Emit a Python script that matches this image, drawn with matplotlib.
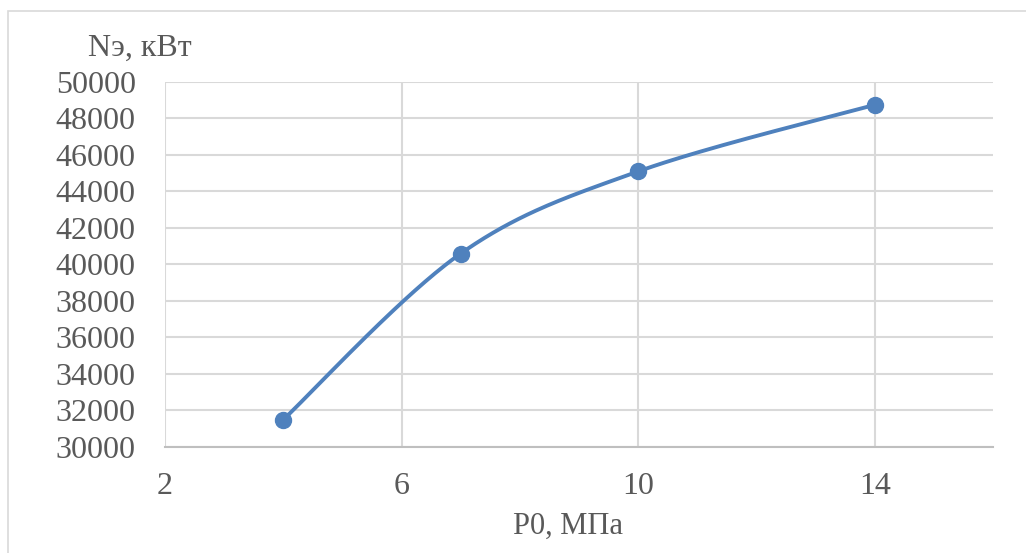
import numpy as np
import matplotlib.pyplot as plt
from matplotlib.patches import Rectangle

# Pressure before the turbine and effective power
p0 = [4, 7, 10, 14]
power = [31500, 40600, 45100, 48750]

x_ticks = [2, 6, 10, 14]
y_ticks = list(range(30000, 50001, 2000))

line_color = '#4F81BD'
grid_color = '#D9D9D9'
text_color = '#595959'

plt.rcParams['font.family'] = ['Liberation Serif', 'DejaVu Serif']

fig = plt.figure(figsize=(10.26, 5.53), dpi=100)
ax = fig.add_axes([165 / 1026, 106 / 553, 828 / 1026, 365 / 553])

# chart-area frame (only top and left edges fall inside the image)
fig.patches.append(Rectangle((8 / 1026, -0.1), 1.2, 1 - 11 / 553 + 0.1,
                             transform=fig.transFigure, fill=False,
                             edgecolor=grid_color, linewidth=1.2))

ax.set_xlim(2, 16)
ax.set_ylim(30000, 50000)
ax.set_xticks(x_ticks)
ax.set_yticks(y_ticks)
ax.grid(True, color=grid_color, linewidth=1.5)
ax.set_axisbelow(True)
for side in ['top', 'right', 'left']:
    ax.spines[side].set_visible(False)
ax.spines['bottom'].set_color('#BFBFBF')
ax.spines['bottom'].set_linewidth(1.5)
ax.tick_params(length=0, labelsize=23, labelcolor=text_color)
ax.tick_params(axis='x', pad=18)
ax.tick_params(axis='y', pad=21)

# smoothed curve: cubic Bezier segments built in display space
pts = ax.transData.transform(np.column_stack([p0, power]))
ext = np.vstack([pts[0], pts, pts[-1]])
curve = []
t = np.linspace(0, 1, 60)[:, None]
for i in range(len(pts) - 1):
    a, b = ext[i + 1], ext[i + 2]
    c1 = a + (ext[i + 2] - ext[i]) / 6
    c2 = b - (ext[i + 3] - ext[i + 1]) / 6
    seg = ((1 - t) ** 3) * a + 3 * ((1 - t) ** 2) * t * c1 + 3 * (1 - t) * t ** 2 * c2 + t ** 3 * b
    curve.append(seg)
curve = ax.transData.inverted().transform(np.vstack(curve))
ax.plot(curve[:, 0], curve[:, 1], color=line_color, linewidth=2.8,
        solid_capstyle='round', zorder=3)
ax.plot(p0, power, 'o', color=line_color, markersize=11.5, zorder=4)

fig.text(140 / 1026, 1 - 48 / 553, 'Nэ, кВт', fontsize=23, color=text_color,
         ha='center', va='center')
fig.text(568 / 1026, 1 - 526 / 553, 'P0, МПа', fontsize=22, color=text_color,
         ha='center', va='center')

fig.savefig('out.png', dpi=100)
